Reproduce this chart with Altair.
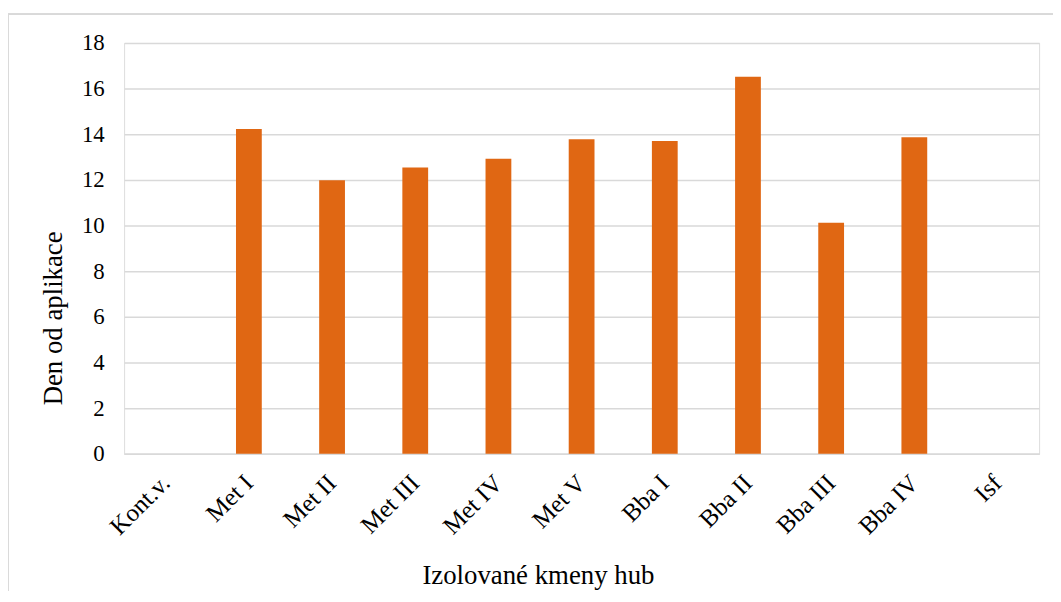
import altair as alt
import pandas as pd

categories = ["Kont.v.", "Met I", "Met II", "Met III", "Met IV", "Met V",
              "Bba I", "Bba II", "Bba III", "Bba IV", "Isf"]
values = [0, 14.23, 11.99, 12.54, 12.93, 13.78, 13.70, 16.52, 10.12, 13.87, 0]

df = pd.DataFrame({"kmen": categories, "den": values})

FONT = "Liberation Serif"
W, H = 922, 414

bars = alt.Chart(df).mark_bar(color="#E06713").encode(
    x=alt.X("kmen:N", sort=categories,
            scale=alt.Scale(paddingInner=0.69, paddingOuter=0.345),
            axis=alt.Axis(title="Izolované kmeny hub", labelAngle=-45, labelAlign="right",
                          labelBaseline="middle", labelPadding=25, ticks=False,
                          domainColor="#D9D9D9", domainWidth=1.5,
                          labelFont=FONT, labelFontSize=25, labelColor="#000000",
                          titleFont=FONT, titleFontSize=27, titleFontWeight="normal",
                          titleColor="#000000", titleX=417, titleY=131,
                          titleAlign="center", titleBaseline="alphabetic")),
    y=alt.Y("den:Q", scale=alt.Scale(domain=[0, 18]),
            axis=alt.Axis(title="Den od aplikace", values=list(range(0, 19, 2)),
                          ticks=False, domain=False, grid=True, gridColor="#D9D9D9",
                          gridWidth=1.5, labelPadding=20,
                          labelFont=FONT, labelFontSize=23, labelColor="#000000",
                          titleFont=FONT, titleFontSize=27, titleFontWeight="normal",
                          titleColor="#000000", titleX=-63, titleY=277, titleAngle=270,
                          titleAlign="center", titleBaseline="alphabetic")),
)

border_top = alt.Chart(df).mark_rule(color="#D9D9D9", strokeWidth=1.5).encode(
    x=alt.value(-117), x2=alt.value(W + 40), y=alt.value(-29))
border_left = alt.Chart(df).mark_rule(color="#D9D9D9", strokeWidth=1.5).encode(
    x=alt.value(-117), y=alt.value(-29), y2=alt.value(H + 200))

chart = alt.layer(bars, border_top, border_left).properties(
    width=W, height=H,
    autosize=alt.AutoSizeParams(type="none"),
    padding={"left": 117, "top": 33, "right": 14, "bottom": 136},
).configure_view(stroke=None).configure(background="white")

chart.save("out.html", embed_options={"renderer": "svg", "actions": False})
